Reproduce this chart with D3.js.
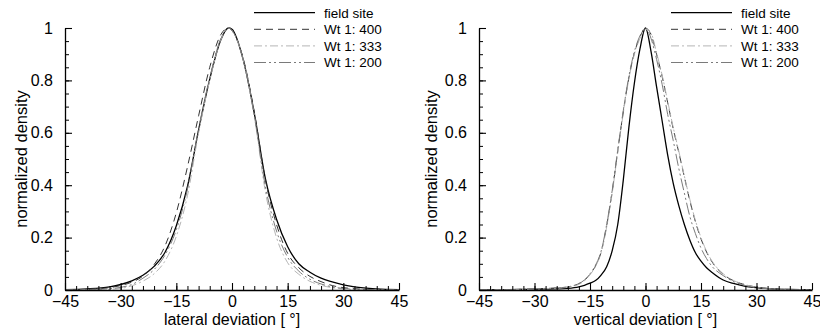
<!DOCTYPE html>
<html><head><meta charset="utf-8">
<script src="https://cdn.jsdelivr.net/npm/d3@7"></script>
<style>
html,body{margin:0;padding:0;background:#fff;}
svg{display:block;font-family:"Liberation Sans",Arial,sans-serif;}
</style></head>
<body><svg id="c" width="820" height="330"></svg>
<script>
// ---- data ----
const seriesNames = ["field site", "Wt 1: 400", "Wt 1: 333", "Wt 1: 200"];
const xTicks = [-45, -30, -15, 0, 15, 30, 45];
const yTicks = [0, 0.2, 0.4, 0.6, 0.8, 1];
const yTickLabels = ["0", "0.2", "0.4", "0.6", "0.8", "1"];
const panelTitles = ["lateral deviation [ °]", "vertical deviation [ °]"];
const yTitle = "normalized density";

const xLat = [-45,-39,-33,-30,-27,-24,-21,-18,-15,-12,-9,-6,-3,-1,0,3,6,9,12,15,18,21,24,27,30,33,39,45];
const latField = [0.001,0.004,0.012,0.021,0.035,0.056,0.09,0.145,0.245,0.395,0.61,0.805,0.955,1.0,0.995,0.88,0.675,0.425,0.27,0.165,0.1,0.068,0.045,0.031,0.02,0.012,0.004,0.001];
const lat400 = [0.001,0.003,0.009,0.017,0.03,0.053,0.097,0.17,0.295,0.47,0.665,0.85,0.975,1.0,0.99,0.885,0.68,0.42,0.25,0.14,0.085,0.052,0.032,0.017,0.009,0.005,0.001,0];
const lat333 = [0,0.001,0.003,0.006,0.016,0.034,0.062,0.112,0.205,0.36,0.6,0.8,0.955,1.0,0.99,0.88,0.665,0.375,0.2,0.104,0.06,0.033,0.018,0.009,0.004,0.002,0,0];
const lat200 = [0,0.002,0.005,0.01,0.021,0.045,0.078,0.135,0.23,0.385,0.615,0.81,0.96,1.0,0.99,0.88,0.665,0.395,0.225,0.125,0.072,0.041,0.023,0.012,0.006,0.003,0.001,0];

const xVer = [-45,-39,-33,-27,-24,-21,-18,-16.5,-15,-13.5,-12,-10.5,-9,-7.5,-6,-4.5,-3,-1.5,0,1.5,3,4.5,6,7.5,9,10.5,12,13.5,15,16.5,18,21,24,27,30,33,39,45];
const verField = [0,0.001,0.002,0.003,0.004,0.006,0.012,0.018,0.026,0.036,0.057,0.089,0.15,0.25,0.42,0.62,0.79,0.92,1.0,0.91,0.775,0.645,0.515,0.407,0.322,0.25,0.19,0.142,0.11,0.085,0.067,0.038,0.024,0.014,0.009,0.005,0.002,0];
const ver400 = [0,0.001,0.003,0.006,0.008,0.011,0.024,0.037,0.06,0.092,0.145,0.245,0.375,0.53,0.68,0.81,0.905,0.965,1.0,0.975,0.9,0.815,0.715,0.615,0.525,0.432,0.34,0.26,0.195,0.145,0.107,0.06,0.034,0.02,0.011,0.006,0.002,0];
const ver333 = [0,0.001,0.002,0.005,0.007,0.01,0.022,0.035,0.058,0.09,0.142,0.24,0.37,0.525,0.675,0.805,0.9,0.96,0.995,0.98,0.905,0.82,0.72,0.62,0.53,0.435,0.345,0.265,0.2,0.148,0.11,0.062,0.035,0.02,0.011,0.006,0.002,0];
const ver200 = [0,0.001,0.003,0.006,0.008,0.012,0.025,0.038,0.062,0.095,0.148,0.25,0.38,0.535,0.685,0.815,0.91,0.97,1.0,0.96,0.88,0.785,0.67,0.57,0.464,0.37,0.28,0.215,0.16,0.12,0.09,0.055,0.031,0.017,0.009,0.005,0.002,0];

// ---- styles ----
const styles = [
  {stroke:"#000", width:1.3, dash:null},
  {stroke:"#333", width:1.0, dash:"7,5"},
  {stroke:"#b5b5b5", width:1.0, dash:"8,3,2,3"},
  {stroke:"#7a7a7a", width:1.0, dash:"12,3,2,3,2,3"}
];

const panels = [
  {x0:65, x1:399, xs:xLat, series:[latField,lat400,lat333,lat200], title:panelTitles[0], ytx:27, legX:254, legTx:324},
  {x0:479, x1:812, xs:xVer, series:[verField,ver400,ver333,ver200], title:panelTitles[1], ytx:437, legX:671, legTx:741}
];

const svg = d3.select("#c");
const yTop = 28, yBot = 290;

panels.forEach(p => {
  const x = d3.scaleLinear().domain([-45,45]).range([p.x0,p.x1]);
  const y = d3.scaleLinear().domain([0,1]).range([yBot,yTop]);
  const g = svg.append("g");

  // curves
  p.series.forEach((vals,i) => {
    const line = d3.line().x((d,j)=>x(p.xs[j])).y(d=>y(d)).curve(d3.curveMonotoneX);
    const st = styles[i];
    g.append("path").datum(vals).attr("d", line)
      .attr("fill","none").attr("stroke",st.stroke).attr("stroke-width",st.width)
      .attr("stroke-dasharray", st.dash);
  });

  // minor ticks
  const xMinor = d3.range(-45, 46, 3);
  const yMinor = d3.range(0, 1.0001, 0.05);
  g.append("g").attr("transform",`translate(0,${yBot})`)
    .call(d3.axisBottom(x).tickValues(xMinor).tickSize(-4).tickFormat(""))
    .call(a=>a.select(".domain").remove())
    .selectAll("line").attr("stroke","#000").attr("stroke-width",1);
  g.append("g").attr("transform",`translate(${p.x0},0)`)
    .call(d3.axisLeft(y).tickValues(yMinor).tickSize(-4).tickFormat(""))
    .call(a=>a.select(".domain").remove())
    .selectAll("line").attr("stroke","#000").attr("stroke-width",1);

  // major axes
  const xa = g.append("g").attr("transform",`translate(0,${yBot})`)
    .call(d3.axisBottom(x).tickValues(xTicks).tickSize(-7).tickPadding(6).tickSizeOuter(0));
  xa.select(".domain").attr("stroke","#000").attr("stroke-width",1.3);
  xa.selectAll("line").attr("stroke","#000").attr("stroke-width",1.1);
  xa.selectAll("text").attr("font-size",16).attr("fill","#000").attr("font-family",'"Liberation Sans",Arial,sans-serif');

  const ya = g.append("g").attr("transform",`translate(${p.x0},0)`)
    .call(d3.axisLeft(y).tickValues(yTicks).tickSize(-7).tickPadding(12).tickSizeOuter(0)
      .tickFormat((d,i)=>yTickLabels[i]));
  ya.select(".domain").attr("stroke","#000").attr("stroke-width",1.3);
  ya.selectAll("line").attr("stroke","#000").attr("stroke-width",1.1);
  ya.selectAll("text").attr("font-size",16).attr("fill","#000").attr("font-family",'"Liberation Sans",Arial,sans-serif');

  // titles
  g.append("text").attr("x",(p.x0+p.x1)/2).attr("y",325).attr("text-anchor","middle")
    .attr("font-size",16).text(p.title);
  g.append("text").attr("transform",`translate(${p.ytx},${(yTop+yBot)/2}) rotate(-90)`)
    .attr("text-anchor","middle").attr("font-size",16.5).text(yTitle);

  // legend
  seriesNames.forEach((n,i) => {
    const ly = 12.7 + i*16.6;
    const st = styles[i];
    g.append("line").attr("x1",p.legX).attr("x2",p.legX+61).attr("y1",ly).attr("y2",ly)
      .attr("stroke",st.stroke).attr("stroke-width",st.width).attr("stroke-dasharray",st.dash);
    g.append("text").attr("x",p.legTx).attr("y",ly+4.8).attr("font-size",13.5).text(n);
  });
});
</script></body></html>
